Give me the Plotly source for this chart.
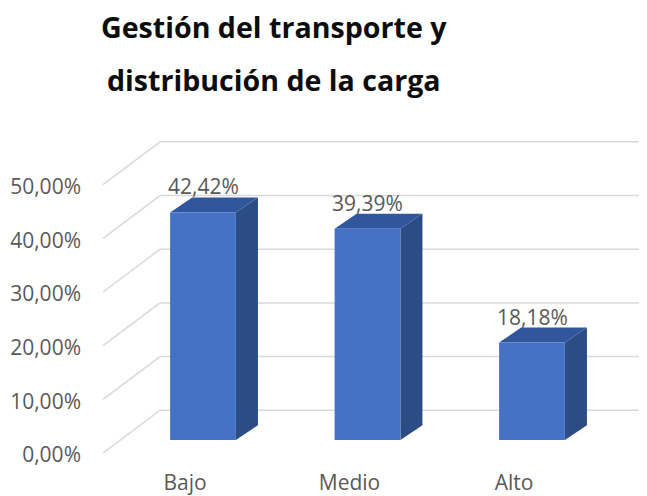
import plotly.graph_objects as go

CATEGORIES = ['Bajo', 'Medio', 'Alto']
PERCENTS = [42.42, 39.39, 18.18]
TICKS = [0, 10, 20, 30, 40, 50]
TITLE_LINES = ['Gestión del transporte y', 'distribución de la carga']

FRONT = '#4472C4'
SIDE = '#2C4C85'
TOP = '#30579B'
GRID = '#D9D9D9'
TEXT = '#595959'
FONT = 'Open Sans, sans-serif'

# the page body has an 8px margin, so the figure is a bit smaller than the window
PAGE_OFF = 8
W, H = 639, 488
L, R, T, B = 74, 0, 112, 36
BAR_W = 0.4
DEPTH_X = 0.134   # depth of the 3D box, x units
DEPTH_Y = 2.78    # depth of the 3D box, y units
WALL_Y = 5.56     # back wall offset
FLOOR_Y = -2.41   # front floor edge offset


def paper_x(p):
    # page pixel -> paper fraction
    return (p - PAGE_OFF - L) / (W - L - R)


def paper_y(p):
    return (H - B - (p - PAGE_OFF)) / (H - T - B)


xs = list(range(len(CATEGORIES)))

fig = go.Figure(go.Bar(
    x=xs, y=PERCENTS, width=BAR_W,
    marker=dict(color=FRONT, line=dict(width=0)),
    hoverinfo='skip',
))

shapes = []
# perspective gridlines: floor diagonal + back wall
for v in TICKS:
    shapes.append(dict(type='line', xref='paper', yref='y', layer='below',
                       x0=paper_x(103), y0=v + FLOOR_Y,
                       x1=paper_x(160), y1=v + WALL_Y,
                       line=dict(color=GRID, width=1.5)))
    shapes.append(dict(type='line', xref='paper', yref='y', layer='below',
                       x0=paper_x(160), y0=v + WALL_Y,
                       x1=1, y1=v + WALL_Y,
                       line=dict(color=GRID, width=1.5)))

# side and top faces of each box
for x, v in zip(xs, PERCENTS):
    r = x + BAR_W / 2
    l = x - BAR_W / 2
    shapes.append(dict(type='path', xref='x', yref='y', layer='below',
                       path=f'M {r},0 L {r + DEPTH_X},{DEPTH_Y} L {r + DEPTH_X},{v + DEPTH_Y} L {r},{v} Z',
                       fillcolor=SIDE, line=dict(width=0)))
    shapes.append(dict(type='path', xref='x', yref='y', layer='below',
                       path=f'M {l},{v} L {r},{v} L {r + DEPTH_X},{v + DEPTH_Y} L {l + DEPTH_X},{v + DEPTH_Y} Z',
                       fillcolor=TOP, line=dict(width=0)))

annotations = []
for x, v in zip(xs, PERCENTS):
    annotations.append(dict(x=x, y=v, xref='x', yref='y', yshift=26,
                            text=f'{v:.2f}%'.replace('.', ','), showarrow=False,
                            font=dict(size=21, color=TEXT, family=FONT)))

for line, py in zip(TITLE_LINES, [26, 79]):
    annotations.append(dict(x=paper_x(273.5), y=paper_y(py),
                            xref='paper', yref='paper', yanchor='middle',
                            text=f'<b>{line}</b>', showarrow=False,
                            font=dict(size=28.6, color='#0D0D0D', family=FONT)))

fig.update_layout(
    width=W, height=H,
    margin=dict(l=L, r=R, t=T, b=B),
    paper_bgcolor='white', plot_bgcolor='white',
    font=dict(family=FONT, size=21, color=TEXT),
    showlegend=False,
    shapes=shapes,
    annotations=annotations,
)
fig.update_xaxes(
    range=[-0.7356, 2.699], tickvals=xs, ticktext=CATEGORIES,
    showgrid=False, zeroline=False, showline=False, ticks='',
    ticklabelshift=-18, ticklabelstandoff=10,
)
fig.update_yaxes(
    range=[-3.333, 59.63], tickvals=TICKS,
    ticktext=[f'{t:.2f}%'.replace('.', ',') for t in TICKS],
    showgrid=False, zeroline=False, showline=False, ticks='',
    ticklabelshift=15,
)

fig.write_html('out.html')
